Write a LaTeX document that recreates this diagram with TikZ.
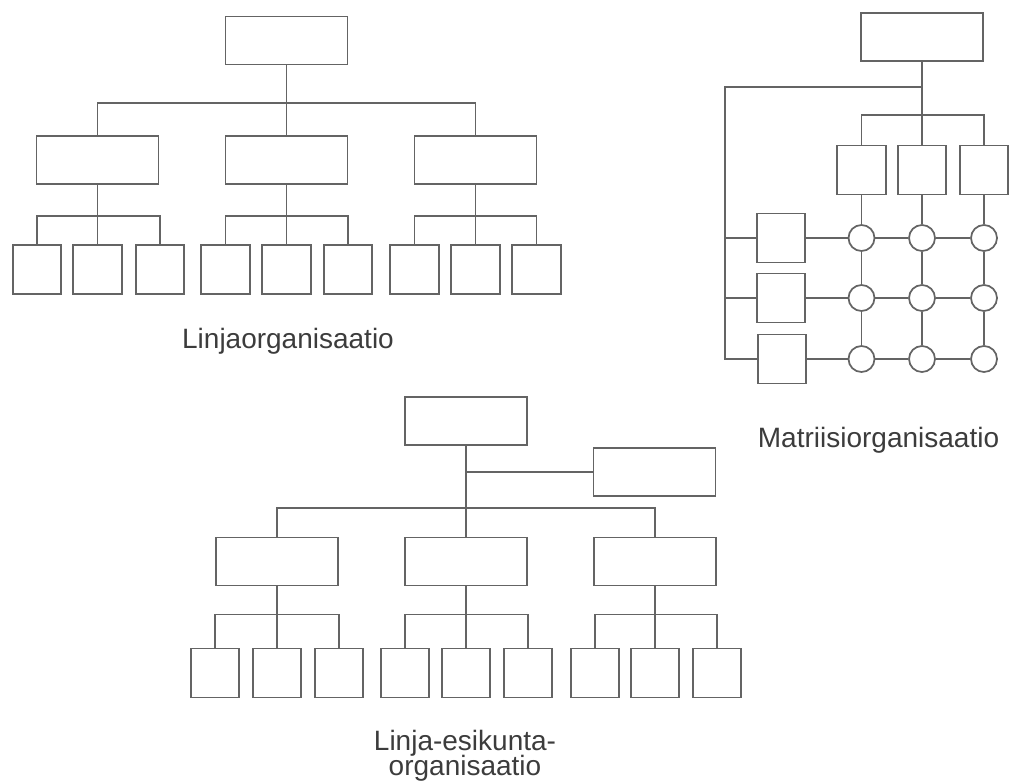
\documentclass[tikz,border=0pt]{standalone}
\usepackage{fontspec}
\setmainfont{Liberation Sans}
\definecolor{lc}{RGB}{100,100,100}
\definecolor{tc}{RGB}{60,60,60}
\newcommand{\tightlines}{\lineskiplimit=-20pt\relax}
\tikzset{
  ln/.style={draw=lc, line width=1.3pt},
  bigbox/.style={ln, rectangle, minimum width=91.5pt, minimum height=36pt, inner sep=0pt},
  smallbox/.style={ln, rectangle, minimum width=36.5pt, minimum height=36.75pt, inner sep=0pt},
  nodecirc/.style={ln, circle, minimum size=19.5pt, inner sep=0pt},
  lbl/.style={text=tc, font=\fontsize{21pt}{18.75pt}\selectfont\tightlines, inner sep=0pt, anchor=base}
}
\begin{document}
\begin{tikzpicture}[x=0.75pt,y=-0.75pt]
\useasboundingbox (0,0) rectangle (1019,782);

% ---------- Linjaorganisaatio ----------
\node[bigbox] (t1) at (286.5,40.5) {};
\node[bigbox] (m1a) at (97.5,160) {};
\node[bigbox] (m1b) at (286.5,160) {};
\node[bigbox] (m1c) at (475.5,160) {};
\coordinate (b1) at (286.5,103);
\draw[ln] (t1.south) -- (b1) -- (m1b.north);
\draw[ln] (m1a.north) |- (b1) -| (m1c.north);
\foreach \p/\xa/\xb/\xc in {m1a/37/97.5/160, m1b/225.5/286.5/348, m1c/414.5/475.5/536.5} {
  \node[smallbox] (\p-1) at (\xa,269.5) {};
  \node[smallbox] (\p-2) at (\xb,269.5) {};
  \node[smallbox] (\p-3) at (\xc,269.5) {};
  \path (\p.south) ++(0,31) coordinate (\p-j);
  \draw[ln] (\p.south) -- (\p-j) -- (\p-2.north);
  \draw[ln] (\p-1.north) |- (\p-j) -| (\p-3.north);
}
\node[lbl] (l1) at (288,348) {Linjaorganisaatio};

% ---------- Matriisiorganisaatio ----------
\node[bigbox] (t2) at (922,37) {};
\coordinate (b2a) at (922,87);
\coordinate (k2) at (725,87);
\coordinate (b2b) at (922,115);
\node[smallbox] (c1) at (861.5,170) {};
\node[smallbox] (c2) at (922,170) {};
\node[smallbox] (c3) at (984,170) {};
\draw[ln] (t2.south) -- (b2b) -- (c2.north);
\draw[ln] (c1.north) |- (b2b) -| (c3.north);
\node[smallbox] (r1) at (781,238) {};
\node[smallbox] (r2) at (781,298) {};
\node[smallbox] (r3) at (782,359) {};
\draw[ln] (b2a) -- (k2) |- (r3.west);
\draw[ln] (k2 |- r1) -- (r1.west);
\draw[ln] (k2 |- r2) -- (r2.west);
\foreach \r/\y in {1/238, 2/298, 3/359} {
  \foreach \c/\x in {1/861.5, 2/922, 3/984} {
    \node[nodecirc] (o\r\c) at (\x,\y) {};
  }
}
\foreach \c in {1,2,3} {
  \draw[ln] (c\c.south) -- (o1\c.north);
  \draw[ln] (o1\c.south) -- (o2\c.north);
  \draw[ln] (o2\c.south) -- (o3\c.north);
}
\foreach \r in {1,2,3} {
  \draw[ln] (r\r.east) -- (o\r1.west);
  \draw[ln] (o\r1.east) -- (o\r2.west);
  \draw[ln] (o\r2.east) -- (o\r3.west);
}
\node[lbl] (l2) at (878.5,447) {Matriisiorganisaatio};

% ---------- Linja-esikuntaorganisaatio ----------
\node[bigbox] (t3) at (466,421) {};
\node[bigbox] (s3) at (654.5,472) {};
\draw[ln] (t3 |- s3) -- (s3.west);
\node[bigbox] (m3a) at (277,561.5) {};
\node[bigbox] (m3b) at (466,561.5) {};
\node[bigbox] (m3c) at (655,561.5) {};
\coordinate (b3) at (466,508);
\draw[ln] (t3.south) -- (b3) -- (m3b.north);
\draw[ln] (m3a.north) |- (b3) -| (m3c.north);
\foreach \p/\xa/\xb/\xc in {m3a/215/277/339, m3b/405/466/528, m3c/595/655/717} {
  \node[smallbox] (\p-1) at (\xa,673) {};
  \node[smallbox] (\p-2) at (\xb,673) {};
  \node[smallbox] (\p-3) at (\xc,673) {};
  \path (\p.south) ++(0,28) coordinate (\p-j);
  \draw[ln] (\p.south) -- (\p-j) -- (\p-2.north);
  \draw[ln] (\p-1.north) |- (\p-j) -| (\p-3.north);
}
\node[lbl, align=center] (l3) at (465,775) {Linja-esikunta-\\organisaatio};
\end{tikzpicture}
\end{document}
